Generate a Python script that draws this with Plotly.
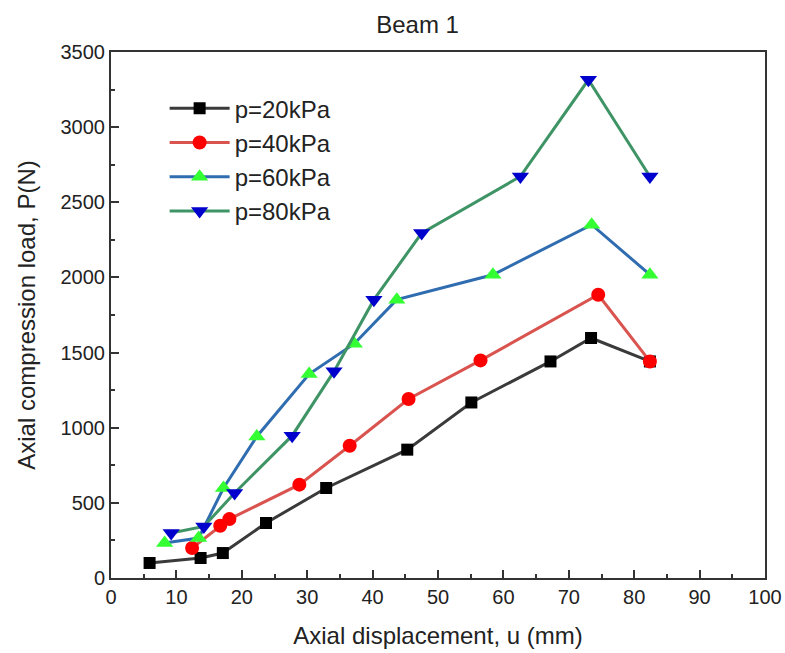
import plotly.graph_objects as go

# Data
x20 = [5.9, 13.7, 17.1, 23.7, 32.9, 45.3, 55.1, 67.2, 73.4, 82.4]
y20 = [100, 133, 166, 366, 599, 854, 1168, 1441, 1597, 1441]

x40 = [12.4, 16.7, 18.1, 28.8, 36.5, 45.5, 56.5, 74.5, 82.4]
y40 = [200, 348, 392, 621, 880, 1191, 1448, 1885, 1441]

x60 = [8.2, 13.4, 17.2, 22.3, 30.3, 37.2, 43.7, 58.4, 73.5, 82.4]
y60 = [233, 266, 599, 942, 1357, 1559, 1852, 2018, 2351, 2018]

x80 = [9.2, 14.2, 18.9, 27.7, 34.1, 40.2, 47.5, 62.6, 73.0, 82.4]
y80 = [299, 343, 566, 947, 1375, 1852, 2295, 2672, 3315, 2672]

names = ["p=20kPa", "p=40kPa", "p=60kPa", "p=80kPa"]

series = [
    (x20, y20, names[0], "#3a3a3a", "square", "#000000", 12),
    (x40, y40, names[1], "#d9534f", "circle", "#ff0000", 14),
    (x60, y60, names[2], "#2f6db0", "triangle-up", "#33ff33", 15),
    (x80, y80, names[3], "#3f9466", "triangle-down", "#0000cc", 15),
]

fig = go.Figure()
for xs, ys, nm, lc, sym, mc, ms in series:
    fig.add_trace(go.Scatter(
        x=xs, y=ys, name=nm, mode="lines+markers",
        line=dict(color=lc, width=3),
        marker=dict(symbol=sym, color=mc, size=ms, line=dict(width=0)),
    ))

font_family = "Liberation Sans, Arial, sans-serif"

fig.update_layout(
    width=785, height=653,
    margin=dict(l=111, r=20, t=52, b=75, autoexpand=False),
    paper_bgcolor="white", plot_bgcolor="white",
    font=dict(family=font_family, color="#222222"),
    title=dict(text="Beam 1", x=0.532, xref="container", xanchor="center",
               y=0.962, yref="container", yanchor="middle",
               font=dict(size=24, color="#222222")),
    legend=dict(x=0.082, y=0.935, xanchor="left", yanchor="top",
                bgcolor="rgba(0,0,0,0)", font=dict(size=24, color="#222222"),
                itemwidth=60, tracegroupgap=0),
    showlegend=True,
)

fig.update_xaxes(
    range=[0, 100], tickmode="linear", tick0=0, dtick=10,
    ticks="inside", ticklen=8, tickwidth=1.5, tickcolor="#333333",
    minor=dict(ticks="inside", ticklen=4, dtick=5, tickcolor="#333333", tickwidth=1.5),
    showline=True, linecolor="#333333", linewidth=2, mirror=True,
    showgrid=False, zeroline=False, automargin=False,
    tickfont=dict(size=20, color="#222222"),
    title=dict(text="Axial displacement, u (mm)", font=dict(size=24, color="#222222"), standoff=20),
)
fig.update_yaxes(
    range=[0, 3500], tickmode="linear", tick0=0, dtick=500,
    ticks="inside", ticklen=8, tickwidth=1.5, tickcolor="#333333",
    minor=dict(ticks="inside", ticklen=4, dtick=250, tickcolor="#333333", tickwidth=1.5),
    showline=True, linecolor="#333333", linewidth=2, mirror=True,
    showgrid=False, zeroline=False, automargin=False,
    tickfont=dict(size=20, color="#222222"),
    title=dict(text="Axial compression load, P(N)", font=dict(size=24, color="#222222"), standoff=18),
)

fig.write_html("out.html", config={"displayModeBar": False},
               post_script="document.body.style.margin='0';")
